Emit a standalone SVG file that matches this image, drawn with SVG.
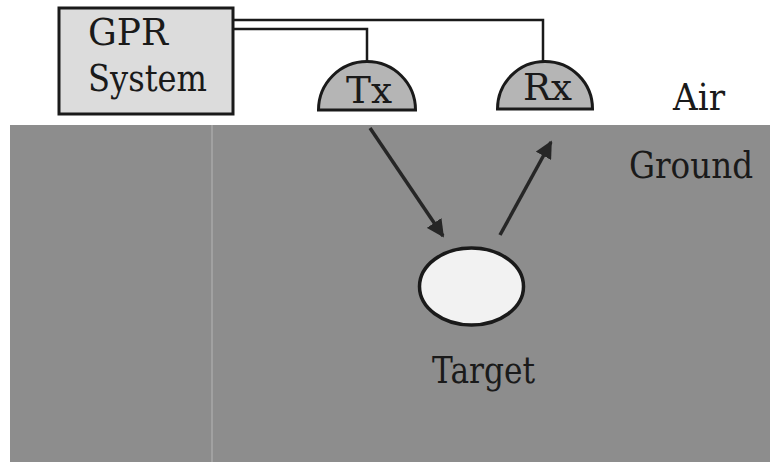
<svg xmlns="http://www.w3.org/2000/svg" width="770" height="462" viewBox="0 0 770 462">
<defs>
<style>
.lbl{font-family:'DejaVu Serif',serif;fill:#1a1a1a;font-size:38px}
.dome{fill:#b5b5b5;stroke:#1a1a1a;stroke-width:3}
.wire{fill:none;stroke:#1a1a1a;stroke-width:2.5}
.ray{stroke:#262626;stroke-width:3.5;fill:none}
</style>
<marker id="ah" viewBox="0 0 10 10" refX="9" refY="5" markerWidth="5" markerHeight="5" orient="auto" markerUnits="strokeWidth">
<path d="M0,0 L10,5 L0,10 z" fill="#262626"/>
</marker>
</defs>
<rect x="0" y="0" width="770" height="462" fill="#ffffff"/>
<g id="ground">
<rect x="10" y="125" width="760" height="337" fill="#8d8d8d"/>
<line x1="212" y1="125" x2="212" y2="462" stroke="#a9a9a9" stroke-width="1.5"/>
<text class="lbl" x="629" y="178" textLength="124" lengthAdjust="spacingAndGlyphs">Ground</text>
</g>
<g id="air">
<text class="lbl" x="673" y="110" textLength="52" lengthAdjust="spacingAndGlyphs">Air</text>
</g>
<g id="connectors">
<polyline class="wire" points="233,20 543,20 543,62"/>
<polyline class="wire" points="233,29 367,29 367,63"/>
<line class="ray" x1="370" y1="128" x2="443" y2="236" marker-end="url(#ah)"/>
<line class="ray" x1="500" y1="235" x2="551" y2="142" marker-end="url(#ah)"/>
</g>
<g id="gpr">
<rect x="59" y="8" width="174" height="106" fill="#dcdcdc" stroke="#1a1a1a" stroke-width="3"/>
<text class="lbl" x="88" y="45" textLength="80" lengthAdjust="spacingAndGlyphs">GPR</text>
<text class="lbl" x="88" y="91" textLength="119" lengthAdjust="spacingAndGlyphs">System</text>
</g>
<g id="tx">
<path class="dome" d="M318.5,110 A48.5,48.5 0 0 1 415.5,110 Z"/>
<text class="lbl" x="346" y="103" textLength="46" lengthAdjust="spacingAndGlyphs">Tx</text>
</g>
<g id="rx">
<path class="dome" d="M497.5,109 A47.5,47.5 0 0 1 592.5,109 Z"/>
<text class="lbl" x="523" y="100" textLength="49" lengthAdjust="spacingAndGlyphs">Rx</text>
</g>
<g id="target">
<ellipse cx="471.5" cy="286.5" rx="52" ry="38.5" fill="#f2f2f2" stroke="#1a1a1a" stroke-width="3.5"/>
<text class="lbl" x="432" y="383" textLength="103" lengthAdjust="spacingAndGlyphs">Target</text>
</g>
</svg>
